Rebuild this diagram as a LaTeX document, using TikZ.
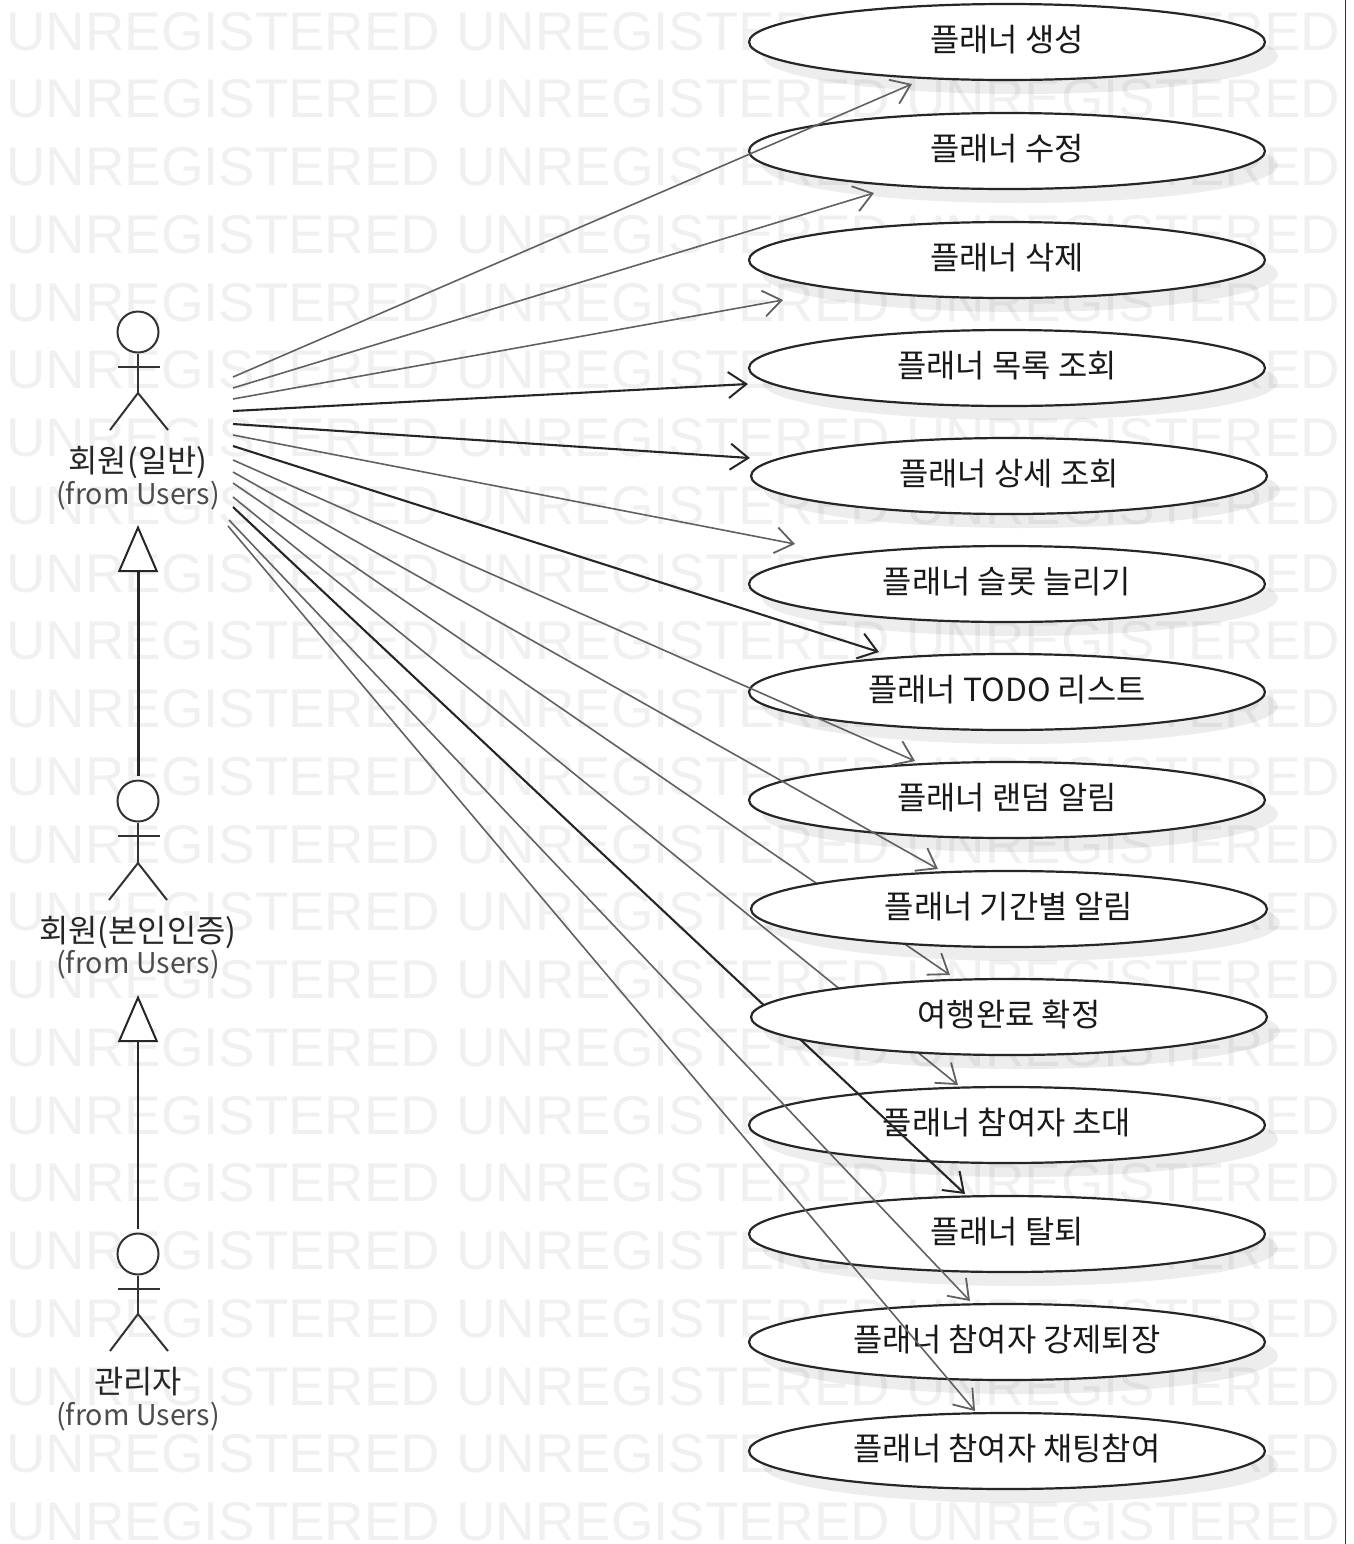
\documentclass[tikz,border=0pt]{standalone}
\usepackage{fontspec}
\setmainfont{Noto Sans CJK KR}
\newfontfamily\markfont{Liberation Sans}
\usetikzlibrary{arrows.meta,shapes.geometric,shadows,positioning}
\tikzset{
  usecase/.style={ellipse,draw=black!85,line width=1.1pt,fill=white,minimum width=258pt,minimum height=38pt,inner sep=0pt,text=black!90,
    font=\fontsize{15.9pt}{18pt}\selectfont,text height=12pt,text depth=3pt,
    drop shadow={shadow xshift=6.5pt,shadow yshift=-7pt,fill=black,opacity=0.07}},
  actorhead/.style={circle,draw=black!80,line width=1pt,fill=white,minimum size=20.5pt,inner sep=0pt},
  actorname/.style={inner sep=0pt,font=\fontsize{15.9pt}{18pt}\selectfont,text=black!85},
  actorfrom/.style={inner sep=0pt,font=\fontsize{14.3pt}{18pt}\selectfont,text=black!70},
  assoc/.style={draw=black!62,line width=0.8pt,-{Straight Barb[length=9pt,width=13pt,line width=0.9pt]}},
  assocdark/.style={draw=black!85,line width=1.05pt,-{Straight Barb[length=9pt,width=13pt,line width=1pt]}},
  geni/.style={draw=black!85,line width=1.5pt,-{Triangle[open,fill=white,length=23.5pt,width=20pt,line width=1pt]},shorten <=2pt},
  markrow/.style={anchor=base west,inner sep=0pt,text=black!6,font=\markfont\fontsize{27.3pt}{30pt}\selectfont}
}
\begin{document}
\begin{tikzpicture}[x=0.5pt,y=-0.5pt]
\useasboundingbox (0,0) rectangle (1354,1544);
\foreach \row in {0,...,22}{
  \foreach \col/\xpos in {a/6,b/456,c/906}{
    \node[markrow] (mark\col\row) at (\xpos,50+\row*67.75) {UNREGISTERED};
  }
}
\coordinate (edgetop) at (1345.5,0);
\coordinate (edgebot) at (1345.5,1544);
\draw[black!80,line width=0.8pt] (edgetop) -- (edgebot);

\coordinate (startA) at (233,377);
\coordinate (startB) at (233,388);
\coordinate (startC) at (233,399);
\coordinate (startD) at (233,411);
\coordinate (startE) at (233,424);
\coordinate (startF) at (233,435);
\coordinate (startG) at (233,446);
\coordinate (startH) at (233,460);
\coordinate (startI) at (233,472);
\coordinate (startJ) at (233,483);
\coordinate (startK) at (233,497);
\coordinate (startL) at (233,507);
\coordinate (startM) at (229,520);
\coordinate (startN) at (228,526);
\coordinate (tipA) at (912,84);
\coordinate (tipB) at (874,193);
\coordinate (tipC) at (783,300);
\coordinate (tipD) at (748,384);
\coordinate (tipE) at (750,458);
\coordinate (tipF) at (795,544);
\coordinate (tipG) at (879,652);
\coordinate (tipH) at (915,761);
\coordinate (tipI) at (938,869);
\coordinate (tipJ) at (950,975);
\coordinate (tipK) at (958,1085);
\coordinate (tipL) at (965,1194);
\coordinate (tipM) at (970,1301);
\coordinate (tipN) at (975,1411);

\node[usecase] (invite) at (1007,1125) {플래너 참여자 초대};
\draw[assoc] (startJ) -- (tipJ);
\draw[assoc] (startK) -- (tipK);
\draw[assocdark] (startL) -- (tipL);

\node[usecase] (create) at (1007,42) {플래너 생성};
\node[usecase] (modify) at (1007,151) {플래너 수정};
\node[usecase] (remove) at (1007,260) {플래너 삭제};
\node[usecase] (listing) at (1007,368) {플래너 목록 조회};
\node[usecase] (detail) at (1009,476) {플래너 상세 조회};
\node[usecase] (slot) at (1007,584) {플래너 슬롯 늘리기};
\node[usecase] (todo) at (1007,692) {플래너 TODO 리스트};
\node[usecase] (randomalarm) at (1007,800) {플래너 랜덤 알림};
\node[usecase] (termalarm) at (1009,909) {플래너 기간별 알림};
\node[usecase] (finish) at (1009,1017) {여행완료 확정};
\node[usecase] (leave) at (1007,1234) {플래너 탈퇴};
\node[usecase] (kick) at (1007,1342) {플래너 참여자 강제퇴장};
\node[usecase] (chat) at (1007,1451) {플래너 참여자 채팅참여};

\draw[assoc] (startA) -- (tipA);
\draw[assoc] (startB) -- (tipB);
\draw[assoc] (startC) -- (tipC);
\draw[assocdark] (startD) -- (tipD);
\draw[assocdark] (startE) -- (tipE);
\draw[assoc] (startF) -- (tipF);
\draw[assocdark] (startG) -- (tipG);
\draw[assoc] (startH) -- (tipH);
\draw[assoc] (startI) -- (tipI);
\draw[assoc] (startM) -- (tipM);
\draw[assoc] (startN) -- (tipN);

\node[actorhead] (userhead) at (138,332) {};
\coordinate (userneck) at (138,393);
\coordinate (userarmL) at (118,367);
\coordinate (userarmR) at (160,367);
\coordinate (userlegL) at (110,430);
\coordinate (userlegR) at (168,430);
\draw[black!80,line width=1pt] (userhead.south) -- (userneck);
\draw[black!80,line width=1pt] (userarmL) -- (userarmR);
\draw[black!80,line width=1pt] (userlegL) -- (userneck) -- (userlegR);
\node[actorname] (username) at (138,462) {회원(일반)};
\node[actorfrom] (userfrom) at (138,496) {(from Users)};
\coordinate (usertip) at (138,525);

\node[actorhead] (verifiedhead) at (138,801) {};
\coordinate (verifiedneck) at (138,863);
\coordinate (verifiedarmL) at (118,836);
\coordinate (verifiedarmR) at (160,836);
\coordinate (verifiedlegL) at (109,900);
\coordinate (verifiedlegR) at (167,900);
\draw[black!80,line width=1pt] (verifiedhead.south) -- (verifiedneck);
\draw[black!80,line width=1pt] (verifiedarmL) -- (verifiedarmR);
\draw[black!80,line width=1pt] (verifiedlegL) -- (verifiedneck) -- (verifiedlegR);
\node[actorname] (verifiedname) at (138,932) {회원(본인인증)};
\node[actorfrom] (verifiedfrom) at (138,965) {(from Users)};
\coordinate (verifiedtip) at (138,995);

\node[actorhead] (adminhead) at (138,1254) {};
\coordinate (adminneck) at (138,1314);
\coordinate (adminarmL) at (118,1289);
\coordinate (adminarmR) at (160,1289);
\coordinate (adminlegL) at (110,1351);
\coordinate (adminlegR) at (168,1351);
\draw[black!80,line width=1pt] (adminhead.south) -- (adminneck);
\draw[black!80,line width=1pt] (adminarmL) -- (adminarmR);
\draw[black!80,line width=1pt] (adminlegL) -- (adminneck) -- (adminlegR);
\node[actorname] (adminname) at (138,1382) {관리자};
\node[actorfrom] (adminfrom) at (138,1417) {(from Users)};

\draw[geni] (verifiedhead.north) -- (usertip);
\draw[geni,line width=0.9pt] (adminhead.north) -- (verifiedtip);
\end{tikzpicture}
\end{document}
